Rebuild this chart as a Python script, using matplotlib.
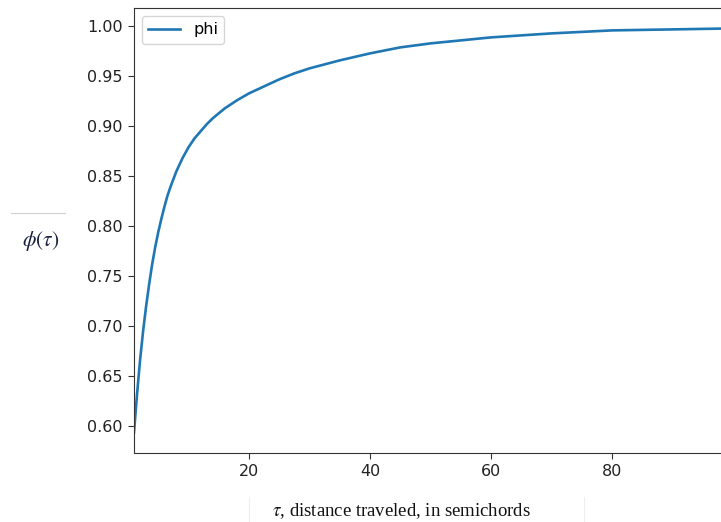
import matplotlib
matplotlib.use("Agg")
import matplotlib.pyplot as plt
from matplotlib.lines import Line2D

plt.rcParams["font.family"] = ["DejaVu Sans"]

# values
tau = [1, 1.5, 2, 2.5, 3, 3.5, 4, 4.5, 5, 5.5, 6, 6.5, 7, 7.5, 8, 9, 10, 11, 12,
       13, 14, 16, 18, 20, 22.5, 25, 27.5, 30, 35, 40, 45, 50, 55, 60, 70, 80, 90, 100]
phi = [0.594, 0.632, 0.666, 0.695, 0.720, 0.742, 0.762, 0.779, 0.794, 0.807,
       0.819, 0.830, 0.839, 0.847, 0.855, 0.868, 0.879, 0.888, 0.895,
       0.902, 0.908, 0.918, 0.926, 0.933, 0.940, 0.947, 0.953, 0.958,
       0.966, 0.973, 0.979, 0.983, 0.986, 0.989, 0.993, 0.996, 0.997, 0.998]
x_ticks = [20, 40, 60, 80]
y_ticks = [0.60, 0.65, 0.70, 0.75, 0.80, 0.85, 0.90, 0.95, 1.00]

W, H = 721, 522
fig = plt.figure(figsize=(W / 100, H / 100), dpi=100)
ax = fig.add_axes([134 / W, 1 - 452.5 / H, (733 - 134) / W, (452.5 - 8) / H])

ax.plot(tau, phi, color="#1f77b4", lw=1.9, label="phi")
ax.set_xlim(1, 100)
ax.set_ylim(0.5738, 1.0184)
ax.set_xticks(x_ticks)
ax.set_yticks(y_ticks)
ax.set_yticklabels([f"{v:.2f}" for v in y_ticks])
ax.tick_params(labelsize=11.5, colors="#333333", labelcolor="#222222", length=4.5)
for s in ax.spines.values():
    s.set_color("#333333")
ax.legend(loc="upper left", fontsize=11.5)

# y label (placed as an image-like caption)
fig.text(41 / W, 1 - 241 / H, r"$\phi(\tau)$", fontsize=15.5, color="#1a2240",
         ha="center", va="center", math_fontfamily="stix")
fig.add_artist(Line2D([11 / W, 65 / W], [1 - 213 / H, 1 - 213 / H],
                      color="#d0d0d0", lw=0.8))

# x label
fig.text(401 / W, 1 - 511 / H, r"$\tau$, distance traveled, in semichords",
         fontsize=13.5, family="Liberation Serif", math_fontfamily="stix",
         color="#111111", ha="center", va="center")
fig.add_artist(Line2D([249 / W, 249 / W], [0, 1 - 497 / H], color="#eeeeee", lw=0.8))
fig.add_artist(Line2D([584 / W, 584 / W], [0, 1 - 497 / H], color="#eeeeee", lw=0.8))

fig.savefig("out.png", dpi=100)
